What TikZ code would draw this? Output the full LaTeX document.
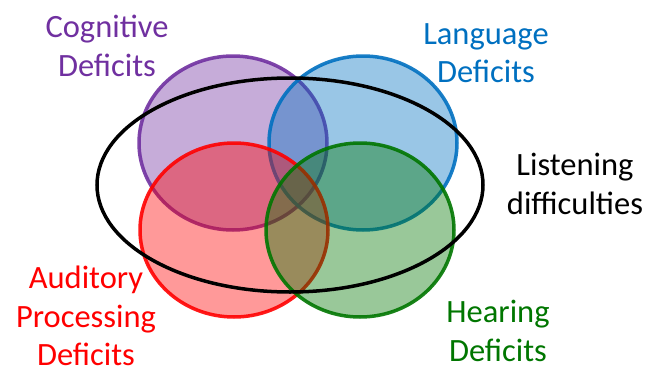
\documentclass[tikz,border=0pt]{standalone}
\usepackage{fontspec}
\setmainfont{Carlito}
\usetikzlibrary{shapes.geometric}

\definecolor{cogpurple}{RGB}{112,48,160}
\definecolor{langblue}{RGB}{0,112,192}
\definecolor{audred}{RGB}{255,0,0}
\definecolor{hearGreen}{RGB}{0,118,0}

\tikzset{
  deficit/.style = {ellipse,
    line width = 3.5pt,
    fill opacity = 0.4,
    draw opacity = 0.9,
    minimum width = 188pt,
    minimum height = 174pt},
  label/.style = {align = center,
    font = \fontsize{32.5}{38.5}\selectfont}
}

\begin{document}
\begin{tikzpicture}[x=1pt, y=-1pt]

\useasboundingbox (0,0) rectangle (656,375);

\node[deficit,
    draw = cogpurple,
    fill = cogpurple] (cog) at (233,143) {};

\node[deficit,
    draw = langblue,
    fill = langblue] (lang) at (363,143) {};

\node[deficit,
    draw = audred,
    fill = audred] (aud) at (234,230) {};

\node[deficit,
    draw = hearGreen,
    fill = hearGreen] (hear) at (360,230) {};

\node[ellipse,
    draw = black,
    line width = 3.5pt,
    minimum width = 386pt,
    minimum height = 214pt] (listen) at (290,185) {};

\node[label, text = cogpurple] (coglabel) at (107,46) {Cognitive\\Deficits};

\node[label, text = langblue] (langlabel) at (486,53) {Language\\Deficits};

\node[label, text = black] (listenlabel) at (575,184) {Listening\\difficulties};

\node[label, text = audred] (audlabel) at (86,316) {Auditory\\Processing\\Deficits};

\node[label, text = hearGreen] (hearlabel) at (498,331) {Hearing\\Deficits};

\end{tikzpicture}
\end{document}
